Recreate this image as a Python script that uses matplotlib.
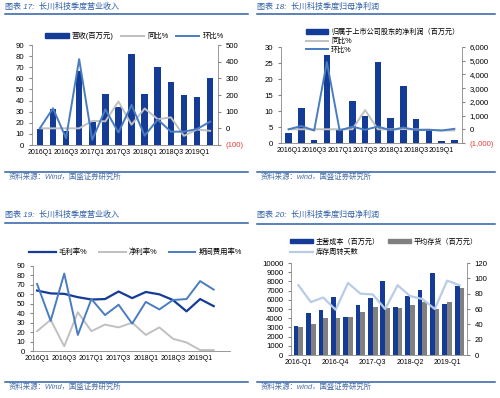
import numpy as np
import matplotlib
matplotlib.use('Agg')
import matplotlib.pyplot as plt
from matplotlib.lines import Line2D
from matplotlib.patches import Patch

plt.rcParams['font.family'] = ['Liberation Sans', 'Noto Sans CJK SC', 'DejaVu Sans']
plt.rcParams['axes.unicode_minus'] = False

# quarters 2016Q1 .. 2019Q2
quarters = ['2016Q1', '2016Q2', '2016Q3', '2016Q4', '2017Q1', '2017Q2', '2017Q3',
            '2017Q4', '2018Q1', '2018Q2', '2018Q3', '2018Q4', '2019Q1', '2019Q2']
quarters_dash = [q[:4] + '-' + q[4:] for q in quarters]

# fig 17: revenue
revenue = [14.5, 32, 13, 67, 21, 45.5, 34, 81.5, 46, 70.5, 56.5, 45, 43, 60]
rev_yoy = [0, 0, 0, 0, 45, 42, 161, 22, 119, 55, 66, -45, -7, -15]
rev_qoq = [0, 120, -59, 415, -69, 114, -25, 140, -44, 53, -20, -20, -4, 40]

# fig 18: net profit
profit = [3.2, 11, 0.8, 27.5, 4.5, 13, 8.5, 25.2, 7.8, 17.7, 7.5, 4.5, 0.6, 0.8]
prof_yoy = [0, 0, 0, 0, 0, 0, 1400, 0, -10, 20, -10, -20, -90, -80]
prof_qoq = [0, 240, -93, 4900, -84, 190, -35, 196, -69, 127, -58, -40, -87, 33]

# fig 19: margins
gross_margin = [64, 61, 60.5, 57, 54.5, 55, 63, 56, 62.5, 60, 54, 42, 55, 47.5]
net_margin = [21, 33, 5, 41, 21, 28, 25, 30, 17, 25, 13, 9, 1, 1]
expense_ratio = [71, 32, 82, 17, 55, 38, 49, 29, 52, 44, 54, 55, 74, 65]

# fig 20: cost / inventory
main_cost = [3100, 4550, 4850, 6350, 4100, 5450, 6150, 8050, 5200, 6450, 7100, 8950, 5550, 7450]
avg_inventory = [3000, 3400, 4000, 4050, 4100, 4700, 5200, 5150, 5150, 5450, 5800, 5000, 5800, 7300]
turnover_days = [91, 69, 75, 59, 94, 80, 79, 60, 91, 77, 73, 60, 97, 91]

navy = '#143C96'
midblue = '#4A7CC0'
gray_line = '#C0C0C0'
light_blue = '#B8CCE8'
gray_bar = '#808080'
head_blue = '#2E5FA6'
red = '#E0403A'
tick_fs = 5.6

W, H = 500, 398
fig = plt.figure(figsize=(W / 100, H / 100), dpi=100)


def rect(x0, y0, x1, y1):
    return [x0 / W, 1 - y1 / H, (x1 - x0) / W, (y1 - y0) / H]


def frame(x0, x1, ytitle, yline, yfoot, title, source):
    fig.text(x0 / W, 1 - ytitle / H, title, fontsize=5.8, color=head_blue,
             style='italic', va='center', ha='left')
    fig.add_artist(Line2D([x0 / W, x1 / W], [1 - yline / H] * 2, color=head_blue, lw=1.1))
    fig.add_artist(Line2D([x0 / W, x1 / W], [1 - yfoot / H] * 2, color=head_blue, lw=1.1))
    fig.text(x0 / W + 0.008, 1 - (yfoot + 5) / H, source, fontsize=5.3, color='#4A6FA5',
             style='italic', va='center', ha='left')


def style_ax(ax, labels, step):
    x = np.arange(len(labels))
    ax.set_xticks(x)
    ax.set_xticklabels([l if i % step == 0 else '' for i, l in enumerate(labels)])
    ax.set_xlim(-0.6, len(labels) - 0.4)
    ax.tick_params(axis='x', length=0, labelsize=5.0, pad=3)
    ax.tick_params(axis='y', labelsize=tick_fs, length=2, color='#888888')
    for s in ['top', 'right']:
        ax.spines[s].set_visible(False)
    for s in ['left', 'bottom']:
        ax.spines[s].set_color('#888888')
        ax.spines[s].set_linewidth(0.6)


def style_right(ax2):
    for s in ['top', 'left', 'bottom']:
        ax2.spines[s].set_visible(False)
    ax2.spines['right'].set_color('#888888')
    ax2.spines['right'].set_linewidth(0.6)
    ax2.tick_params(axis='y', labelsize=tick_fs, length=2, color='#888888')


x = np.arange(len(quarters))

# ---------- fig 17 ----------
frame(5, 248, 7, 14, 172, '图表 17:  长川科技季度营业收入', '资料来源：Wind，国盛证券研究所')
ax = fig.add_axes(rect(32, 45, 218, 145))
ax.bar(x, revenue, width=0.5, color=navy)
ax.set_ylim(0, 90)
ax.set_yticks(range(0, 91, 10))
style_ax(ax, quarters, 2)
ax2 = ax.twinx()
ax2.plot(x, rev_yoy, color=gray_line, lw=1.4)
ax2.plot(x, rev_qoq, color=midblue, lw=1.4)
ax2.set_ylim(-100, 500)
ax2.set_yticks(range(-100, 501, 100))
ax2.set_yticklabels(['(100)'] + [str(v) for v in range(0, 501, 100)])
ax2.get_yticklabels()[0].set_color(red)
style_right(ax2)
ax.legend(handles=[Patch(color=navy, label='营收(百万元)'),
                   Line2D([], [], color=gray_line, lw=1.4, label='同比%'),
                   Line2D([], [], color=midblue, lw=1.4, label='环比%')],
          ncol=3, loc='lower center', bbox_to_anchor=(0.55, 1.02), frameon=False,
          fontsize=5.3, handlelength=3.2, handleheight=0.6, columnspacing=1.0,
          handletextpad=0.4, borderaxespad=0)

# ---------- fig 18 ----------
frame(257, 495, 7, 14, 172, '图表 18:  长川科技季度归母净利润', '资料来源：wind，国盛证券研究所')
ax = fig.add_axes(rect(281, 47, 462, 143))
ax.bar(x, profit, width=0.5, color=navy)
ax.set_ylim(0, 30)
ax.set_yticks(range(0, 31, 5))
style_ax(ax, quarters, 2)
ax2 = ax.twinx()
ax2.plot(x, prof_yoy, color=gray_line, lw=1.4)
ax2.plot(x, prof_qoq, color=midblue, lw=1.4)
ax2.set_ylim(-1000, 6000)
ax2.set_yticks(range(-1000, 6001, 1000))
ax2.set_yticklabels(['(1,000)'] + [f'{v:,}' for v in range(0, 6001, 1000)])
ax2.get_yticklabels()[0].set_color(red)
style_right(ax2)
ax.legend(handles=[Patch(color=navy, label='归属于上市公司股东的净利润（百万元）'),
                   Line2D([], [], color=gray_line, lw=1.4, label='同比%'),
                   Line2D([], [], color=midblue, lw=1.4, label='环比%')],
          ncol=1, loc='upper left', bbox_to_anchor=(0.12, 1.22), frameon=False,
          fontsize=5.1, handlelength=3.2, handleheight=0.6, labelspacing=0.25,
          handletextpad=0.4, borderaxespad=0)

# ---------- fig 19 ----------
frame(5, 248, 215, 223, 382, '图表 19:  长川科技季度营业收入', '资料来源：Wind，国盛证券研究所')
ax = fig.add_axes(rect(33, 266, 230, 351))
ax.plot(x, gross_margin, color=navy, lw=1.6, label='毛利率%')
ax.plot(x, net_margin, color=gray_line, lw=1.4, label='净利率%')
ax.plot(x, expense_ratio, color=midblue, lw=1.4, label='期间费用率%')
ax.set_ylim(0, 90)
ax.set_yticks(range(0, 91, 10))
style_ax(ax, quarters, 2)
ax.set_xlim(-0.3, 14.2)
ax.legend(ncol=3, loc='lower center', bbox_to_anchor=(0.52, 1.08), frameon=False,
          fontsize=5.3, handlelength=3.6, columnspacing=1.6,
          handletextpad=0.4, borderaxespad=0)

# ---------- fig 20 ----------
frame(257, 495, 215, 224, 382, '图表 20:  长川科技季度归母净利润', '资料来源：wind，国盛证券研究所')
ax = fig.add_axes(rect(291, 263, 467, 355))
bw = 0.38
ax.bar(x - bw / 2, main_cost, width=bw, color=navy)
ax.bar(x + bw / 2, avg_inventory, width=bw, color=gray_bar)
ax.set_ylim(0, 10000)
ax.set_yticks(range(0, 10001, 1000))
style_ax(ax, quarters_dash, 3)
ax2 = ax.twinx()
ax2.plot(x, turnover_days, color=light_blue, lw=1.6)
ax2.set_ylim(0, 120)
ax2.set_yticks(range(0, 121, 20))
style_right(ax2)
ax.legend(handles=[Patch(color=navy, label='主营成本（百万元）'),
                   Line2D([], [], color=light_blue, lw=1.6, label='库存周转天数'),
                   Patch(color=gray_bar, label='平均存货（百万元）')],
          ncol=2, loc='upper left', bbox_to_anchor=(-0.02, 1.3), frameon=False,
          fontsize=5.1, handlelength=3.2, handleheight=0.6, labelspacing=0.5,
          columnspacing=1.2, handletextpad=0.4, borderaxespad=0)

fig.savefig('out.png', dpi=100, facecolor='white')
